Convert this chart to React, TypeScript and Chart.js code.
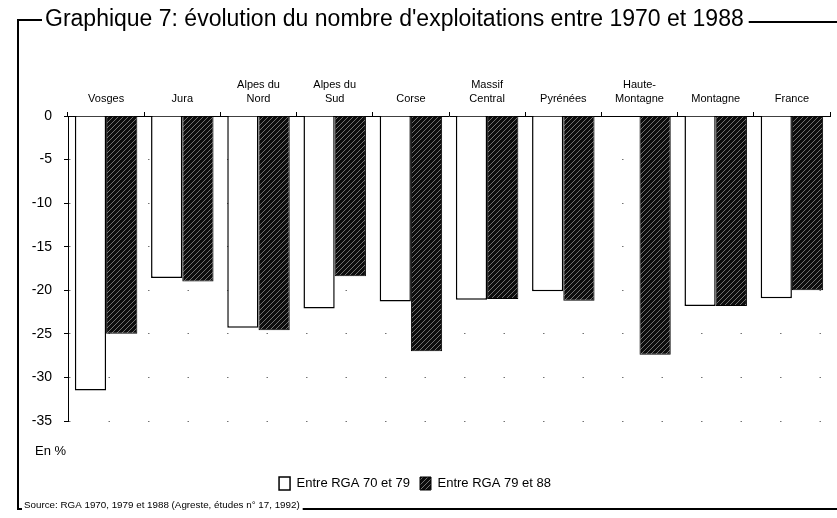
import React, { useEffect, useRef } from 'react';
import { Chart, registerables } from 'chart.js';

Chart.register(...registerables);

const categories: string[][] = [
  ['Vosges'],
  ['Jura'],
  ['Alpes du', 'Nord'],
  ['Alpes du', 'Sud'],
  ['Corse'],
  ['Massif', 'Central'],
  ['Pyrénées'],
  ['Haute-', 'Montagne'],
  ['Montagne'],
  ['France'],
];
const series1Label = 'Entre RGA 70 et 79';
const series2Label = 'Entre RGA 79 et 88';
const series1: (number | null)[] = [-31.5, -18.6, -24.3, -22.1, -21.3, -21.1, -20.1, null, -21.8, -20.9];
const series2: number[] = [-25.0, -19.0, -24.6, -18.4, -27.0, -21.0, -21.2, -27.4, -21.8, -20.0];
const yMin = -35;
const yMax = 0;
const yStep = 5;
const titleText = "Graphique 7: évolution du nombre d'exploitations entre 1970 et 1988";
const sourceText = 'Source: RGA 1970, 1979 et 1988 (Agreste, études n° 17, 1992)';
const unitText = 'En %';

const FONT = '"Liberation Sans", Arial, sans-serif';

function makeHatch(): CanvasPattern | string {
  const pc = document.createElement('canvas');
  pc.width = 5;
  pc.height = 5;
  const c = pc.getContext('2d');
  if (!c) return '#222';
  c.fillStyle = '#0d0d0d';
  c.fillRect(0, 0, 5, 5);
  c.strokeStyle = '#8c8c8c';
  c.lineWidth = 0.8;
  c.beginPath();
  c.moveTo(0, 5);
  c.lineTo(5, 0);
  c.moveTo(-1, 1);
  c.lineTo(1, -1);
  c.moveTo(4, 6);
  c.lineTo(6, 4);
  c.stroke();
  const p = c.createPattern(pc, 'repeat');
  return p || '#222';
}

const decorPlugin = {
  id: 'decor',
  afterDraw(chart: any) {
    const ctx: CanvasRenderingContext2D = chart.ctx;
    ctx.save();
    ctx.fillStyle = '#000';
    ctx.strokeStyle = '#000';
    ctx.textBaseline = 'alphabetic';
    ctx.textAlign = 'left';
    ctx.font = `23px ${FONT}`;
    ctx.fillText(titleText, 45, 26);
    const tw = ctx.measureText(titleText).width;
    ctx.lineWidth = 2;
    ctx.beginPath();
    ctx.moveTo(42, 20);
    ctx.lineTo(18, 20);
    ctx.lineTo(18, 509);
    ctx.lineTo(22, 509);
    ctx.moveTo(45 + tw + 5, 22);
    ctx.lineTo(837, 22);
    ctx.stroke();
    ctx.font = `9.8px ${FONT}`;
    ctx.fillText(sourceText, 24, 508);
    const sw = ctx.measureText(sourceText).width;
    ctx.beginPath();
    ctx.moveTo(24 + sw + 3, 509);
    ctx.lineTo(837, 509);
    ctx.stroke();
    ctx.font = `13px ${FONT}`;
    ctx.fillText(unitText, 35, 455);
    ctx.restore();
  },
};

export default function App() {
  const ref = useRef<HTMLCanvasElement | null>(null);
  useEffect(() => {
    if (!ref.current) return;
    const hatch = makeHatch();
    const chart = new Chart(ref.current, {
      type: 'bar',
      data: {
        labels: categories,
        datasets: [
          {
            label: series1Label,
            data: series1,
            backgroundColor: '#fff',
            borderColor: '#000',
            borderWidth: 1.5,
            categoryPercentage: 0.82,
            barPercentage: 1,
          },
          {
            label: series2Label,
            data: series2,
            backgroundColor: hatch as any,
            borderColor: '#000',
            borderWidth: 1,
            categoryPercentage: 0.82,
            barPercentage: 1,
          },
        ],
      },
      options: {
        animation: false,
        responsive: false,
        devicePixelRatio: 1,
        color: '#000',
        layout: { padding: { left: 0, right: 7, top: 0, bottom: 18 } },
        scales: {
          x: {
            position: 'top',
            afterFit: (s: any) => {
              s.height = 116;
            },
            border: { display: true, color: '#000', width: 1 },
            grid: { display: true, drawOnChartArea: false, drawTicks: true, tickLength: 4, color: '#000', offset: true },
            ticks: {
              color: '#000',
              padding: 6,
              font: { family: FONT, size: 11, lineHeight: 1.25 },
              maxRotation: 0,
              autoSkip: false,
            },
          },
          y: {
            min: yMin,
            max: yMax,
            afterFit: (s: any) => {
              s.width = 68;
            },
            border: { display: true, color: '#000', width: 1, dash: [1.5, 38] },
            grid: {
              display: true,
              drawOnChartArea: true,
              color: 'rgba(0,0,0,0.55)',
              tickColor: '#000',
              tickLength: 4,
              tickBorderDash: [],
            },
            ticks: {
              stepSize: yStep,
              color: '#000',
              padding: 12,
              font: { family: FONT, size: 14 },
            },
          },
        },
        plugins: {
          legend: {
            display: true,
            position: 'bottom',
            title: { display: true, text: '', font: { size: 10 }, padding: { top: 34, bottom: 0 } },
            labels: {
              color: '#000',
              boxWidth: 11,
              boxHeight: 13,
              padding: 10,
              font: { family: FONT, size: 13 },
            },
          },
          title: { display: false },
          tooltip: { enabled: false },
        },
      } as any,
      plugins: [decorPlugin],
    });
    return () => chart.destroy();
  }, []);
  return (
    <div style={{ position: 'absolute', left: 0, top: 0, width: 837, height: 518, background: '#fff' }}>
      <canvas ref={ref} width={837} height={518} />
    </div>
  );
}
